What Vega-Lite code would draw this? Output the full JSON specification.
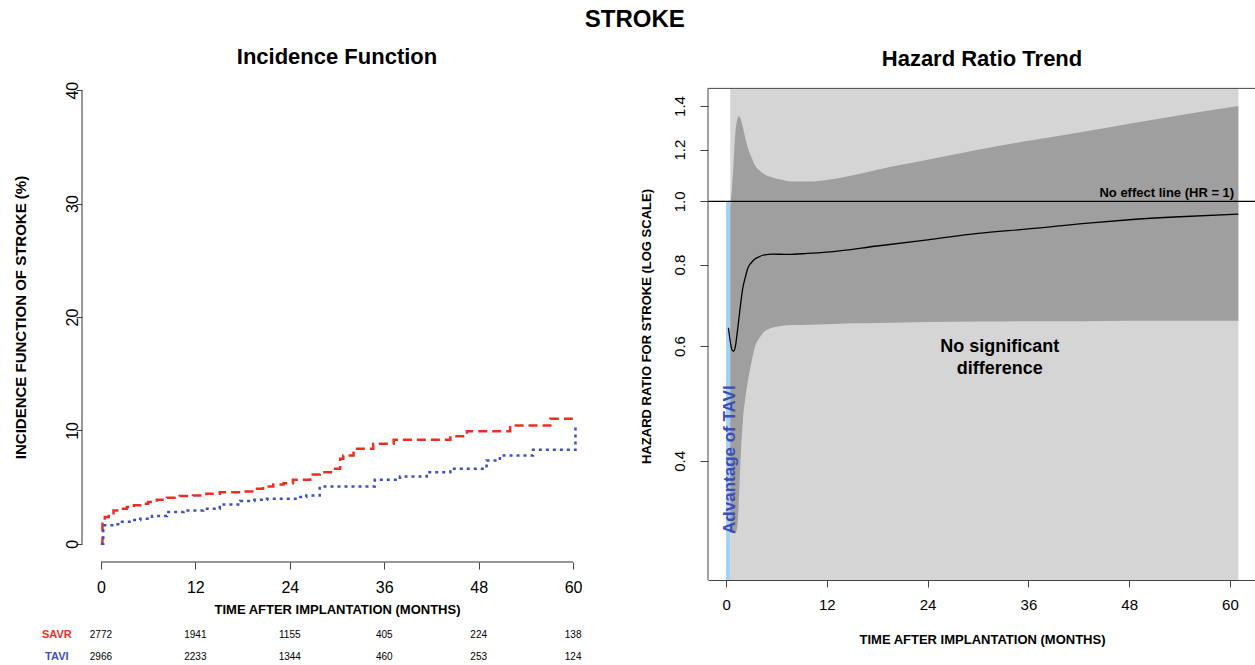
{
  "$schema": "https://vega.github.io/schema/vega-lite/v6.json",
  "background": "white",
  "padding": {"left": 13, "top": 8, "right": 0, "bottom": 0},
  "title": {"text": "STROKE", "fontSize": 24, "anchor": "middle", "offset": 14},
  "spacing": 48,
  "config": {
    "font": "Liberation Sans",
    "view": {"stroke": null},
    "axis": {"grid": false, "labelColor": "#000", "titleColor": "#000", "domainColor": "#444", "tickColor": "#444", "titleFontWeight": "bold", "titleFontSize": 13, "labelFlush": false, "labelOverlap": false},
    "title": {"fontWeight": "bold", "color": "#000"}
  },
  "datasets": {
    "incidence": [
      {"group": "SAVR", "month": 0, "incidence": 0},
      {"group": "SAVR", "month": 0.2, "incidence": 1.9},
      {"group": "SAVR", "month": 0.5, "incidence": 2.36},
      {"group": "SAVR", "month": 1.0, "incidence": 2.7},
      {"group": "SAVR", "month": 1.6, "incidence": 2.95},
      {"group": "SAVR", "month": 2.5, "incidence": 3.1},
      {"group": "SAVR", "month": 3.3, "incidence": 3.24},
      {"group": "SAVR", "month": 4.2, "incidence": 3.4},
      {"group": "SAVR", "month": 5.0, "incidence": 3.54},
      {"group": "SAVR", "month": 6.0, "incidence": 3.7},
      {"group": "SAVR", "month": 7.1, "incidence": 3.89},
      {"group": "SAVR", "month": 8.4, "incidence": 4.07},
      {"group": "SAVR", "month": 10.0, "incidence": 4.21},
      {"group": "SAVR", "month": 11.7, "incidence": 4.27},
      {"group": "SAVR", "month": 13.4, "incidence": 4.42},
      {"group": "SAVR", "month": 15.1, "incidence": 4.56},
      {"group": "SAVR", "month": 17.7, "incidence": 4.62},
      {"group": "SAVR", "month": 19.4, "incidence": 4.86},
      {"group": "SAVR", "month": 20.6, "incidence": 5.06},
      {"group": "SAVR", "month": 21.9, "incidence": 5.24},
      {"group": "SAVR", "month": 23.2, "incidence": 5.35},
      {"group": "SAVR", "month": 24.4, "incidence": 5.65},
      {"group": "SAVR", "month": 26.6, "incidence": 6.12},
      {"group": "SAVR", "month": 27.8, "incidence": 6.32},
      {"group": "SAVR", "month": 29.5, "incidence": 6.62},
      {"group": "SAVR", "month": 30.4, "incidence": 7.5},
      {"group": "SAVR", "month": 30.8, "incidence": 7.79},
      {"group": "SAVR", "month": 32.1, "incidence": 8.38},
      {"group": "SAVR", "month": 34.6, "incidence": 8.82},
      {"group": "SAVR", "month": 37.2, "incidence": 9.17},
      {"group": "SAVR", "month": 44.4, "incidence": 9.49},
      {"group": "SAVR", "month": 46.5, "incidence": 9.93},
      {"group": "SAVR", "month": 52.0, "incidence": 10.43},
      {"group": "SAVR", "month": 57.1, "incidence": 11.02},
      {"group": "SAVR", "month": 60.3, "incidence": 11.02},
      {"group": "TAVI", "month": 0, "incidence": 0},
      {"group": "TAVI", "month": 0.3, "incidence": 1.63},
      {"group": "TAVI", "month": 1.6, "incidence": 1.72},
      {"group": "TAVI", "month": 2.5, "incidence": 1.95},
      {"group": "TAVI", "month": 4.0, "incidence": 2.1},
      {"group": "TAVI", "month": 5.0, "incidence": 2.22},
      {"group": "TAVI", "month": 6.5, "incidence": 2.45},
      {"group": "TAVI", "month": 8.4, "incidence": 2.8},
      {"group": "TAVI", "month": 10.5, "incidence": 2.95},
      {"group": "TAVI", "month": 13.0, "incidence": 3.1},
      {"group": "TAVI", "month": 15.1, "incidence": 3.48},
      {"group": "TAVI", "month": 17.7, "incidence": 3.77},
      {"group": "TAVI", "month": 19.5, "incidence": 3.88},
      {"group": "TAVI", "month": 21.1, "incidence": 3.98},
      {"group": "TAVI", "month": 24.9, "incidence": 4.12},
      {"group": "TAVI", "month": 26.1, "incidence": 4.27},
      {"group": "TAVI", "month": 27.8, "incidence": 5.06},
      {"group": "TAVI", "month": 34.8, "incidence": 5.65},
      {"group": "TAVI", "month": 38.0, "incidence": 5.94},
      {"group": "TAVI", "month": 41.4, "incidence": 6.32},
      {"group": "TAVI", "month": 44.4, "incidence": 6.62},
      {"group": "TAVI", "month": 49.0, "incidence": 7.35},
      {"group": "TAVI", "month": 50.7, "incidence": 7.79},
      {"group": "TAVI", "month": 54.9, "incidence": 8.29},
      {"group": "TAVI", "month": 60.3, "incidence": 10.58}
    ],
    "atrisk": [
      {"group": "SAVR", "month": 0, "n": 2772},
      {"group": "SAVR", "month": 12, "n": 1941},
      {"group": "SAVR", "month": 24, "n": 1155},
      {"group": "SAVR", "month": 36, "n": 405},
      {"group": "SAVR", "month": 48, "n": 224},
      {"group": "SAVR", "month": 60, "n": 138},
      {"group": "TAVI", "month": 0, "n": 2966},
      {"group": "TAVI", "month": 12, "n": 2233},
      {"group": "TAVI", "month": 24, "n": 1344},
      {"group": "TAVI", "month": 36, "n": 460},
      {"group": "TAVI", "month": 48, "n": 253},
      {"group": "TAVI", "month": 60, "n": 124}
    ],
    "shade": [
      {"region": "No significant difference", "x0": 0.5, "x1": 61, "lo": 0.2626, "hi": 1.49},
      {"region": "Advantage of TAVI", "x0": 0, "x1": 0.5, "lo": 0.2626, "hi": 1.0}
    ],
    "hrband": [
      {"month": 0.5, "lower": 0.31, "upper": 0.98},
      {"month": 0.7, "lower": 0.31, "upper": 1.05},
      {"month": 0.9, "lower": 0.31, "upper": 1.15},
      {"month": 1.1, "lower": 0.31, "upper": 1.27},
      {"month": 1.3, "lower": 0.315, "upper": 1.33},
      {"month": 1.5, "lower": 0.34, "upper": 1.35},
      {"month": 1.8, "lower": 0.42, "upper": 1.33},
      {"month": 2.0, "lower": 0.46, "upper": 1.3},
      {"month": 2.3, "lower": 0.5, "upper": 1.25},
      {"month": 2.6, "lower": 0.53, "upper": 1.207},
      {"month": 3.0, "lower": 0.565, "upper": 1.17},
      {"month": 3.4, "lower": 0.596, "upper": 1.138},
      {"month": 4.0, "lower": 0.618, "upper": 1.115},
      {"month": 4.6, "lower": 0.632, "upper": 1.099},
      {"month": 5.5, "lower": 0.64, "upper": 1.088},
      {"month": 6.5, "lower": 0.644, "upper": 1.08},
      {"month": 8, "lower": 0.646, "upper": 1.072},
      {"month": 10, "lower": 0.647, "upper": 1.072},
      {"month": 12, "lower": 0.648, "upper": 1.078},
      {"month": 15, "lower": 0.65, "upper": 1.095},
      {"month": 18, "lower": 0.651, "upper": 1.118},
      {"month": 24, "lower": 0.653, "upper": 1.158},
      {"month": 30, "lower": 0.654, "upper": 1.2},
      {"month": 36, "lower": 0.655, "upper": 1.238},
      {"month": 42, "lower": 0.655, "upper": 1.275},
      {"month": 48, "lower": 0.656, "upper": 1.315},
      {"month": 54, "lower": 0.656, "upper": 1.355},
      {"month": 61, "lower": 0.656, "upper": 1.4}
    ],
    "hrline": [
      {"month": 0.28, "hr": 0.64},
      {"month": 0.5, "hr": 0.61},
      {"month": 0.7, "hr": 0.592},
      {"month": 0.9, "hr": 0.589},
      {"month": 1.1, "hr": 0.598},
      {"month": 1.4, "hr": 0.64},
      {"month": 1.7, "hr": 0.69},
      {"month": 2.0, "hr": 0.737},
      {"month": 2.3, "hr": 0.765},
      {"month": 2.6, "hr": 0.79},
      {"month": 3.0, "hr": 0.805},
      {"month": 3.4, "hr": 0.815},
      {"month": 4.0, "hr": 0.823},
      {"month": 4.6, "hr": 0.828},
      {"month": 5.5, "hr": 0.83},
      {"month": 7.3, "hr": 0.829},
      {"month": 9.7, "hr": 0.832},
      {"month": 12, "hr": 0.836},
      {"month": 18, "hr": 0.854},
      {"month": 24, "hr": 0.873},
      {"month": 30, "hr": 0.893},
      {"month": 36, "hr": 0.907},
      {"month": 43.5, "hr": 0.927},
      {"month": 48, "hr": 0.937},
      {"month": 54, "hr": 0.947},
      {"month": 61, "hr": 0.956}
    ]
  },
  "hconcat": [
    {
      "width": 510,
      "height": 490,
      "title": {"text": "Incidence Function", "fontSize": 22, "offset": 3},
      "layer": [
        {
          "data": {"name": "incidence"},
          "mark": {"type": "line", "interpolate": "step-after", "strokeWidth": 2.5},
          "encoding": {
            "x": {"field": "month", "type": "quantitative", "scale": {"domain": [-2.4, 62.4], "nice": false, "zero": false},
              "axis": {"values": [0, 12, 24, 36, 48, 60], "domain": false, "tickSize": 7, "labelPadding": 10, "labelFontSize": 16, "titlePadding": 8, "title": "TIME AFTER IMPLANTATION (MONTHS)"}},
            "y": {"field": "incidence", "type": "quantitative", "scale": {"domain": [-1.6, 41.6], "nice": false, "zero": false},
              "axis": {"values": [0, 10, 20, 30, 40], "domain": false, "tickSize": 6, "labelAngle": -90, "labelPadding": -4, "labelFontSize": 16, "titlePadding": 36, "titleFontSize": 15, "title": "INCIDENCE FUNCTION OF STROKE (%)"}},
            "color": {"field": "group", "type": "nominal", "scale": {"domain": ["SAVR", "TAVI"], "range": ["#ec2f24", "#3f4fc3"]}, "legend": null},
            "strokeDash": {"field": "group", "type": "nominal", "scale": {"domain": ["SAVR", "TAVI"], "range": [[9, 5], [3, 4]]}, "legend": null}
          }
        },
        {
          "data": {"values": [{}]},
          "mark": {"type": "rule", "color": "#333", "strokeWidth": 1},
          "encoding": {
            "x": {"datum": -2.4, "type": "quantitative", "scale": {"domain": [-2.4, 62.4], "nice": false, "zero": false}},
            "y": {"datum": 0, "type": "quantitative", "scale": {"domain": [-1.6, 41.6], "nice": false, "zero": false}},
            "y2": {"datum": 40}
          }
        },
        {
          "data": {"values": [{}]},
          "mark": {"type": "rule", "color": "#333", "strokeWidth": 1},
          "encoding": {
            "x": {"datum": 0, "type": "quantitative", "scale": {"domain": [-2.4, 62.4], "nice": false, "zero": false}},
            "x2": {"datum": 60},
            "y": {"datum": -1.6, "type": "quantitative", "scale": {"domain": [-1.6, 41.6], "nice": false, "zero": false}}
          }
        },
        {
          "data": {"name": "atrisk"},
          "transform": [{"filter": "datum.group === 'SAVR'"}],
          "mark": {"type": "text", "fontSize": 10, "baseline": "middle", "align": "center", "color": "#000"},
          "encoding": {
            "x": {"field": "month", "type": "quantitative", "scale": {"domain": [-2.4, 62.4], "nice": false, "zero": false}, "title": "TIME AFTER IMPLANTATION (MONTHS)"},
            "y": {"datum": -8, "type": "quantitative", "scale": {"domain": [-1.6, 41.6], "nice": false, "zero": false}},
            "text": {"field": "n", "type": "quantitative"}
          }
        },
        {
          "data": {"name": "atrisk"},
          "transform": [{"filter": "datum.group === 'TAVI'"}],
          "mark": {"type": "text", "fontSize": 10, "baseline": "middle", "align": "center", "color": "#000"},
          "encoding": {
            "x": {"field": "month", "type": "quantitative", "scale": {"domain": [-2.4, 62.4], "nice": false, "zero": false}, "title": "TIME AFTER IMPLANTATION (MONTHS)"},
            "y": {"datum": -10, "type": "quantitative", "scale": {"domain": [-1.6, 41.6], "nice": false, "zero": false}},
            "text": {"field": "n", "type": "quantitative"}
          }
        },
        {
          "data": {"name": "atrisk"},
          "transform": [{"filter": "datum.group === 'SAVR' && datum.month === 0"}],
          "mark": {"type": "text", "fontSize": 11, "fontWeight": "bold", "baseline": "middle", "align": "center"},
          "encoding": {
            "x": {"datum": -5.6, "type": "quantitative", "scale": {"domain": [-2.4, 62.4], "nice": false, "zero": false}},
            "y": {"datum": -8, "type": "quantitative", "scale": {"domain": [-1.6, 41.6], "nice": false, "zero": false}},
            "text": {"field": "group", "type": "nominal"},
            "color": {"field": "group", "type": "nominal", "scale": {"domain": ["SAVR", "TAVI"], "range": ["#ec2f24", "#3f4fc3"]}, "legend": null}
          }
        },
        {
          "data": {"name": "atrisk"},
          "transform": [{"filter": "datum.group === 'TAVI' && datum.month === 0"}],
          "mark": {"type": "text", "fontSize": 11, "fontWeight": "bold", "baseline": "middle", "align": "center"},
          "encoding": {
            "x": {"datum": -5.6, "type": "quantitative", "scale": {"domain": [-2.4, 62.4], "nice": false, "zero": false}},
            "y": {"datum": -10, "type": "quantitative", "scale": {"domain": [-1.6, 41.6], "nice": false, "zero": false}},
            "text": {"field": "group", "type": "nominal"},
            "color": {"field": "group", "type": "nominal", "scale": {"domain": ["SAVR", "TAVI"], "range": ["#ec2f24", "#3f4fc3"]}, "legend": null}
          }
        }
      ]
    },
    {
      "width": 548,
      "height": 508,
      "title": {"text": "Hazard Ratio Trend", "fontSize": 22, "offset": 3, "dy": 2},
      "layer": [
        {
          "data": {"name": "shade"},
          "transform": [{"filter": "datum.region === 'No significant difference'"}],
          "mark": {"type": "rect", "color": "#d5d5d5"},
          "encoding": {
            "x": {"field": "x0", "type": "quantitative", "scale": {"domain": [-2.15, 63.1], "nice": false, "zero": false},
              "axis": {"values": [0, 12, 24, 36, 48, 60], "domain": true, "tickSize": 7, "labelPadding": 10, "labelFontSize": 15, "titlePadding": 21}, "title": "TIME AFTER IMPLANTATION (MONTHS)"},
            "x2": {"field": "x1"},
            "y": {"field": "lo", "type": "quantitative", "scale": {"type": "log", "domain": [0.2626, 1.5787], "nice": false, "zero": false},
              "axis": {"values": [0.4, 0.6, 0.8, 1.0, 1.2, 1.4], "format": ".1f", "domain": false, "tickSize": 8, "labelAngle": -90, "labelPadding": 13, "labelFontSize": 15, "titlePadding": 19}, "title": "HAZARD RATIO FOR STROKE (LOG SCALE)"},
            "y2": {"field": "hi"}
          }
        },
        {
          "data": {"name": "shade"},
          "transform": [{"filter": "datum.region === 'Advantage of TAVI'"}],
          "mark": {"type": "rect", "color": "#a8d0ef"},
          "encoding": {
            "x": {"field": "x0", "type": "quantitative", "scale": {"domain": [-2.15, 63.1], "nice": false, "zero": false}, "title": "TIME AFTER IMPLANTATION (MONTHS)"},
            "x2": {"field": "x1"},
            "y": {"field": "lo", "type": "quantitative", "scale": {"type": "log", "domain": [0.2626, 1.5787], "nice": false, "zero": false}, "title": "HAZARD RATIO FOR STROKE (LOG SCALE)"},
            "y2": {"field": "hi"}
          }
        },
        {
          "data": {"name": "hrband"},
          "mark": {"type": "area", "color": "#9f9f9f", "interpolate": "monotone", "opacity": 1},
          "encoding": {
            "x": {"field": "month", "type": "quantitative", "scale": {"domain": [-2.15, 63.1], "nice": false, "zero": false}, "title": "TIME AFTER IMPLANTATION (MONTHS)"},
            "y": {"field": "lower", "type": "quantitative", "scale": {"type": "log", "domain": [0.2626, 1.5787], "nice": false, "zero": false}, "title": "HAZARD RATIO FOR STROKE (LOG SCALE)"},
            "y2": {"field": "upper"}
          }
        },
        {
          "data": {"name": "hrline"},
          "mark": {"type": "line", "color": "#000", "strokeWidth": 1.3, "interpolate": "monotone"},
          "encoding": {
            "x": {"field": "month", "type": "quantitative", "scale": {"domain": [-2.15, 63.1], "nice": false, "zero": false}, "title": "TIME AFTER IMPLANTATION (MONTHS)"},
            "y": {"field": "hr", "type": "quantitative", "scale": {"type": "log", "domain": [0.2626, 1.5787], "nice": false, "zero": false}, "title": "HAZARD RATIO FOR STROKE (LOG SCALE)"}
          }
        },
        {
          "data": {"values": [{}]},
          "mark": {"type": "rule", "color": "#000", "strokeWidth": 1.3},
          "encoding": {
            "y": {"datum": 1, "type": "quantitative", "scale": {"type": "log", "domain": [0.2626, 1.5787], "nice": false, "zero": false}}
          }
        },
        {
          "data": {"values": [{}]},
          "mark": {"type": "rule", "color": "#444", "strokeWidth": 1},
          "encoding": {
            "y": {"datum": 1.49, "type": "quantitative", "scale": {"type": "log", "domain": [0.2626, 1.5787], "nice": false, "zero": false}}
          }
        },
        {
          "data": {"values": [{}]},
          "mark": {"type": "rule", "color": "#444", "strokeWidth": 1},
          "encoding": {
            "x": {"datum": -2.15, "type": "quantitative", "scale": {"domain": [-2.15, 63.1], "nice": false, "zero": false}},
            "y": {"datum": 0.2626, "type": "quantitative", "scale": {"type": "log", "domain": [0.2626, 1.5787], "nice": false, "zero": false}},
            "y2": {"datum": 1.49}
          }
        },
        {
          "data": {"values": [{}]},
          "mark": {"type": "text", "text": "No effect line (HR = 1)", "align": "right", "baseline": "alphabetic", "dy": -4, "fontSize": 13, "fontWeight": "bold", "color": "#000"},
          "encoding": {
            "x": {"datum": 60.5, "type": "quantitative", "scale": {"domain": [-2.15, 63.1], "nice": false, "zero": false}},
            "y": {"datum": 1, "type": "quantitative", "scale": {"type": "log", "domain": [0.2626, 1.5787], "nice": false, "zero": false}}
          }
        },
        {
          "data": {"values": [{}]},
          "mark": {"type": "text", "text": ["No significant", "difference"], "align": "center", "baseline": "middle", "lineHeight": 22, "fontSize": 18, "fontWeight": "bold", "color": "#000"},
          "encoding": {
            "x": {"datum": 32.6, "type": "quantitative", "scale": {"domain": [-2.15, 63.1], "nice": false, "zero": false}},
            "y": {"datum": 0.598, "type": "quantitative", "scale": {"type": "log", "domain": [0.2626, 1.5787], "nice": false, "zero": false}}
          }
        },
        {
          "data": {"values": [{}]},
          "mark": {"type": "text", "text": "Advantage of TAVI", "angle": 270, "align": "left", "baseline": "middle", "fontSize": 17, "fontWeight": "bold", "color": "#3b4db8"},
          "encoding": {
            "x": {"datum": 0.48, "type": "quantitative", "scale": {"domain": [-2.15, 63.1], "nice": false, "zero": false}},
            "y": {"datum": 0.309, "type": "quantitative", "scale": {"type": "log", "domain": [0.2626, 1.5787], "nice": false, "zero": false}}
          }
        }
      ]
    }
  ]
}
